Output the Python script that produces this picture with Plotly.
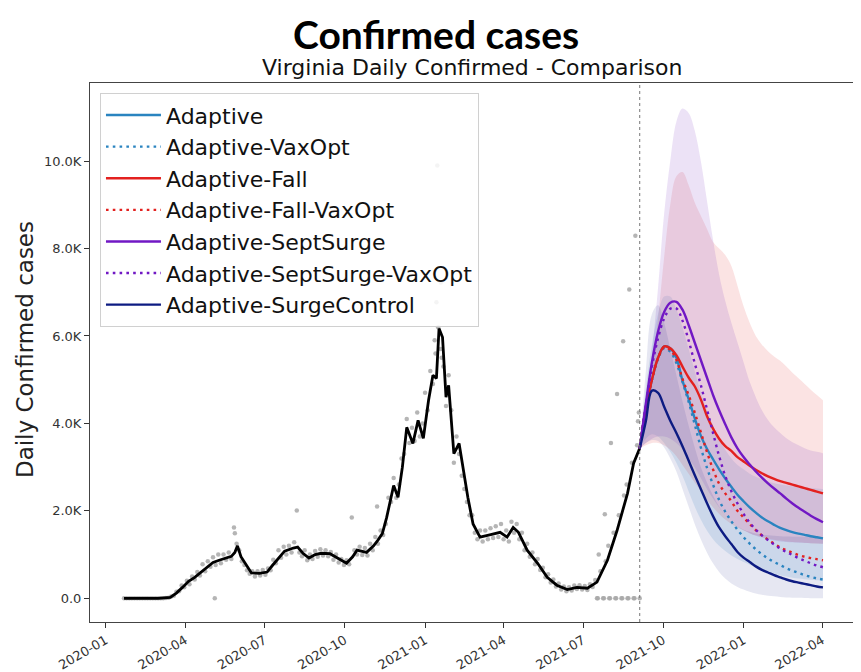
import plotly.graph_objects as go
import pandas as pd

# ---------------- text ----------------
title_text = "Confirmed cases"
subtitle_text = "Virginia Daily Confirmed - Comparison"
y_title = "Daily Confirmed cases"

# ---------------- history: 7-day average line ----------------
line_dates = ["2020-01-22", "2020-03-01", "2020-03-15", "2020-03-22", "2020-03-29", "2020-04-05",
              "2020-04-12", "2020-04-19", "2020-04-26", "2020-05-03", "2020-05-10", "2020-05-17",
              "2020-05-24", "2020-05-28", "2020-05-31", "2020-06-04", "2020-06-10", "2020-06-16",
              "2020-06-25", "2020-07-04", "2020-07-10", "2020-07-16", "2020-07-24", "2020-08-03",
              "2020-08-08", "2020-08-14", "2020-08-21", "2020-08-28", "2020-09-04", "2020-09-14",
              "2020-09-22", "2020-10-03", "2020-10-10", "2020-10-15", "2020-10-26", "2020-11-03",
              "2020-11-08", "2020-11-13", "2020-11-18", "2020-11-22", "2020-11-26", "2020-12-01",
              "2020-12-06", "2020-12-11", "2020-12-18", "2020-12-24", "2020-12-30", "2021-01-05",
              "2021-01-10", "2021-01-14", "2021-01-17", "2021-01-21", "2021-01-25", "2021-01-28",
              "2021-02-03", "2021-02-09", "2021-02-19", "2021-02-25", "2021-03-05", "2021-03-16",
              "2021-03-28", "2021-04-05", "2021-04-12", "2021-04-18", "2021-04-28", "2021-05-10",
              "2021-05-21", "2021-06-01", "2021-06-13", "2021-06-24", "2021-07-06", "2021-07-17",
              "2021-07-29", "2021-08-09", "2021-08-21", "2021-08-28", "2021-09-04"]
line_vals = [0, 0, 20, 120, 250, 390,
             480, 600, 720, 820, 870, 920,
             960, 1050, 1200, 950, 750, 580,
             570, 600, 750, 900, 1080, 1150,
             1170, 1030, 920, 1000, 1030, 1020,
             920, 800, 950, 1100, 1050, 1200,
             1330, 1480, 1850, 2250, 2580, 2310,
             3000, 3910, 3540, 4070, 3660, 4530,
             5100, 5030, 6170, 5970, 4600, 4870,
             3310, 3540, 2310, 1700, 1400, 1450,
             1510, 1400, 1620, 1510, 1100, 800,
             480, 300, 200, 250, 230, 370,
             870, 1550, 2400, 3090, 3430]

# ---------------- history: daily reported values (every 3rd day from start) ----------------
dot_start = "2020-01-22"
dot_vals = [0, 0, 0, 0, 0, 0, 0, 0, 0, 0, 0, 0, 0, 0, 0,
            2, 5, 15, 40, 60, 150, 160, 290, 250, 400, 320, 500, 430, 600, 520,
            780, 620, 850, 720, 940, 760, 1000, 800, 1000, 880, 1050, 900, 1620, 1250, 1100,
            850, 760, 640, 560, 620, 500, 620, 520, 650, 540, 680, 640, 880, 800, 1100,
            930, 1180, 1000, 1200, 1050, 1280, 2010, 1050, 960, 1100, 870, 1000, 900, 1080, 950,
            1120, 980, 1100, 960, 1060, 880, 1000, 820, 900, 760, 870, 780, 1850, 1100, 1000,
            1180, 990, 1150, 980, 1250, 1100, 1400, 1250, 1550, 1450, 1700, 2300, 2200, 2750, 2300,
            2600, 3200, 3300, 4100, 3550, 3900, 3600, 4250, 3700, 4000, 4700, 4300, 5200, 4900, 5600,
            6200, 5700, 5300, 4400, 5100, 4300, 3100, 3700, 3300, 2800, 2500, 2200, 1900, 1900, 1500,
            1350, 1550, 1300, 1550, 1350, 1600, 1380, 1650, 1400, 1700, 1350, 1550, 1300, 1750, 1500,
            1700, 1350, 1500, 1100, 1250, 950, 1050, 780, 900, 650, 700, 480, 550, 360, 430,
            270, 340, 200, 270, 160, 250, 180, 290, 210, 300, 200, 280, 190, 320, 260,
            420, 0, 620, 0, 850, 1200, 3550, 1500, 0, 1900, 0, 2350, 2600, 7060, 3100,
            0, 3500, 0]
extra_dot_dates = ["2020-05-05", "2020-05-28", "2020-11-07", "2021-01-12", "2021-01-14", "2021-01-15",
                   "2021-01-19", "2021-01-20", "2021-07-17", "2021-07-19", "2021-07-25", "2021-07-26",
                   "2021-07-31", "2021-08-01", "2021-08-07", "2021-08-09", "2021-08-15", "2021-08-16",
                   "2021-08-21", "2021-08-22", "2021-08-28", "2021-08-30", "2021-09-02", "2021-09-03"]
extra_dot_vals = [0, 1490, 2100, 5900, 6770, 9900,
                  7220, 5500, 0, 1000, 0, 1920,
                  0, 0, 0, 4670, 0, 5880,
                  0, 0, 0, 8290, 4050, 4250]

# ---------------- projections (weekly from the cut-off date) ----------------
proj_start = "2021-09-04"
cutoff_date = "2021-09-04"

adaptive = [3430, 4350, 5000, 5500, 5760, 5720, 5500, 4980, 4560, 4120, 3720, 3420, 3180, 2950, 2740,
            2550, 2370, 2220, 2080, 1960, 1850, 1760, 1680, 1610, 1560, 1515, 1480, 1450, 1420, 1395, 1370]
adaptive_vax = [3430, 4350, 5000, 5480, 5720, 5640, 5380, 4950, 4500, 3980, 3450, 2990, 2600, 2250, 1980,
                1760, 1570, 1400, 1250, 1120, 1010, 910, 830, 760, 690, 630, 580, 530, 490, 455, 430]
fall = [3430, 4350, 5000, 5500, 5760, 5720, 5560, 5300, 5050, 4850, 4550, 4170, 3880, 3650, 3480,
        3370, 3230, 3130, 3030, 2940, 2860, 2790, 2730, 2680, 2640, 2600, 2560, 2520, 2480, 2440, 2400]
fall_vax = [3430, 4350, 5000, 5490, 5740, 5680, 5450, 5020, 4650, 4250, 3800, 3350, 2950, 2620, 2400,
            2220, 2000, 1850, 1700, 1560, 1440, 1340, 1250, 1160, 1100, 1040, 990, 950, 920, 895, 870]
sept = [3430, 4450, 5400, 6100, 6550, 6760, 6780, 6600, 6250, 5850, 5450, 5050, 4650, 4300, 3980,
        3680, 3430, 3230, 3060, 2900, 2760, 2630, 2510, 2400, 2280, 2170, 2070, 1980, 1890, 1810, 1740]
sept_vax = [3430, 4400, 5300, 5950, 6400, 6620, 6630, 6350, 5900, 5380, 4880, 4330, 3780, 3250, 2800,
            2450, 2170, 1930, 1730, 1570, 1440, 1330, 1230, 1140, 1060, 990, 920, 860, 800, 750, 710]
surge_ctrl = [3430, 4050, 4750, 4700, 4380, 4060, 3780, 3480, 3150, 2820, 2500, 2180, 1880, 1620, 1420,
              1240, 1060, 930, 830, 730, 650, 590, 530, 480, 430, 390, 360, 330, 300, 270, 250]

# uncertainty bands
adaptive_lo = [3430, 3650, 3750, 3700, 3550, 3350, 3100, 2800, 2450, 2100, 1800, 1550, 1350, 1200, 1080,
               980, 900, 830, 770, 710, 660, 610, 570, 530, 500, 470, 450, 435, 425, 415, 410]
adaptive_hi = [3430, 4800, 5800, 6500, 6900, 6900, 6600, 6200, 5700, 5200, 4700, 4300, 3950, 3650, 3400,
               3200, 3050, 2950, 2850, 2780, 2720, 2670, 2630, 2600, 2580, 2560, 2540, 2530, 2520, 2510, 2500]
fall_lo = [3430, 3500, 3550, 3550, 3500, 3400, 3250, 3050, 2850, 2650, 2450, 2250, 2080, 1930, 1800,
           1700, 1620, 1550, 1490, 1440, 1400, 1370, 1340, 1320, 1300, 1290, 1280, 1270, 1260, 1255, 1250]
fall_hi = [3430, 4200, 5200, 6400, 7800, 9000, 9650, 9750, 9450, 9050, 8750, 8450, 8150, 8000, 7850,
           7600, 7150, 6680, 6300, 6000, 5800, 5650, 5530, 5430, 5300, 5160, 5030, 4900, 4770, 4650, 4530]
sept_lo = [3430, 3550, 3650, 3700, 3700, 3650, 3550, 3400, 3200, 3000, 2750, 2500, 2280, 2080, 1900,
           1760, 1650, 1560, 1490, 1430, 1390, 1350, 1320, 1300, 1290, 1280, 1270, 1265, 1260, 1255, 1250]
sept_hi = [3430, 4400, 5600, 7100, 8800, 10000, 10900, 11200, 11100, 10700, 10000, 9100, 8200, 7400, 6800,
           6300, 5850, 5400, 4950, 4600, 4300, 4080, 3910, 3780, 3660, 3570, 3500, 3430, 3380, 3350, 3320]
ctrl_lo = [3430, 3550, 3620, 3600, 3450, 3200, 2900, 2500, 2100, 1700, 1350, 1050, 800, 600, 450,
           340, 260, 200, 150, 110, 80, 60, 45, 30, 20, 15, 10, 6, 3, 1, 0]
ctrl_hi = [3430, 5200, 6500, 6700, 6300, 5700, 5100, 4500, 3950, 3450, 3000, 2650, 2350, 2100, 1900,
           1750, 1650, 1570, 1520, 1480, 1460, 1440, 1430, 1420, 1415, 1410, 1405, 1400, 1400, 1400, 1400]

# ---------------- axes ----------------
y_tickvals = [0, 2000, 4000, 6000, 8000, 10000]
y_ticktext = ["0.0", "2.0K", "4.0K", "6.0K", "8.0K", "10.0K"]
x_tickvals = ["2020-01-01", "2020-04-01", "2020-07-01", "2020-10-01", "2021-01-01",
              "2021-04-01", "2021-07-01", "2021-10-01", "2022-01-01", "2022-04-01"]
x_ticktext = ["2020-01", "2020-04", "2020-07", "2020-10", "2021-01",
              "2021-04", "2021-07", "2021-10", "2022-01", "2022-04"]

# ---------------- styles ----------------
C_BLUE = "#2a84c0"
C_RED = "#e3211f"
C_PURPLE = "#7118c4"
C_NAVY = "#0d1b82"
FONT = "DejaVu Sans"

proj_dates = pd.date_range(proj_start, periods=len(adaptive), freq="7D")
dot_dates = pd.date_range(dot_start, periods=len(dot_vals), freq="3D")

fig = go.Figure()

# daily dots
fig.add_trace(go.Scatter(x=list(dot_dates) + pd.to_datetime(extra_dot_dates).tolist(),
                         y=dot_vals + extra_dot_vals, mode="markers",
                         marker=dict(size=4.5, color="#a8a8a8", opacity=0.85),
                         showlegend=False, hoverinfo="skip"))
# 7-day average
fig.add_trace(go.Scatter(x=pd.to_datetime(line_dates), y=line_vals, mode="lines",
                         line=dict(color="#000000", width=2.8), showlegend=False))

# bands
bands = [
    (adaptive_lo, adaptive_hi, "rgba(45,135,195,0.14)"),
    (fall_lo, fall_hi, "rgba(226,55,55,0.14)"),
    (sept_lo, sept_hi, "rgba(120,50,190,0.14)"),
    (ctrl_lo, ctrl_hi, "rgba(25,35,135,0.11)"),
]
for lo, hi, col in bands:
    fig.add_trace(go.Scatter(x=proj_dates, y=lo, mode="lines", line=dict(width=0, shape="spline"),
                             showlegend=False, hoverinfo="skip"))
    fig.add_trace(go.Scatter(x=proj_dates, y=hi, mode="lines", line=dict(width=0, shape="spline"),
                             fill="tonexty", fillcolor=col, showlegend=False, hoverinfo="skip"))

DOT = "2.6px,4.2px"
series = [
    ("Adaptive", adaptive, C_BLUE, "solid"),
    ("Adaptive-VaxOpt", adaptive_vax, C_BLUE, DOT),
    ("Adaptive-Fall", fall, C_RED, "solid"),
    ("Adaptive-Fall-VaxOpt", fall_vax, C_RED, DOT),
    ("Adaptive-SeptSurge", sept, C_PURPLE, "solid"),
    ("Adaptive-SeptSurge-VaxOpt", sept_vax, C_PURPLE, DOT),
    ("Adaptive-SurgeControl", surge_ctrl, C_NAVY, "solid"),
]
for name, vals, col, dash in series:
    fig.add_trace(go.Scatter(x=proj_dates, y=vals, mode="lines", name=name, legendgroup=name,
                             line=dict(color=col, width=2.4, dash=dash, shape="spline", smoothing=1.0)))

# cut-off line
fig.add_shape(type="line", xref="x", yref="paper", x0=cutoff_date, x1=cutoff_date, y0=0, y1=1,
              line=dict(color="#777777", width=1, dash="dot"))

fig.add_annotation(text=f"<b>{title_text}</b>", xref="paper", yref="paper", x=0.451, y=1.091,
                   xanchor="center", yanchor="middle", showarrow=False,
                   font=dict(family="Lato", size=39, color="#000000"))
fig.add_annotation(text=subtitle_text, xref="paper", yref="paper", x=0.498, y=1.028,
                   xanchor="center", yanchor="middle", showarrow=False,
                   font=dict(family=FONT, size=22, color="#111111"))
fig.add_annotation(text=y_title, xref="paper", yref="paper", x=-0.085, y=0.506, textangle=-90,
                   xanchor="center", yanchor="middle", showarrow=False,
                   font=dict(family=FONT, size=23, color="#222222"))

# the page body adds an 8px margin, so the figure is sized/margined to compensate
fig.update_layout(
    width=853, height=664,
    margin=dict(l=82, r=4, t=75, b=50, autoexpand=False),
    paper_bgcolor="white", plot_bgcolor="white",
    font=dict(family=FONT, size=13, color="#333333"),
    legend=dict(x=0.013, y=0.981, xanchor="left", yanchor="top",
                bgcolor="rgba(255,255,255,0.85)", bordercolor="#d0d0d0", borderwidth=1,
                font=dict(family=FONT, size=22, color="#111111"),
                tracegroupgap=0, itemwidth=55),
    showlegend=True,
)
fig.update_xaxes(range=["2019-12-14", "2022-05-11"], tickvals=x_tickvals, ticktext=x_ticktext,
                 tickangle=-30, showline=True, linecolor="#444444", linewidth=1, mirror=True,
                 ticks="outside", ticklen=5, tickcolor="#333333", showgrid=False, zeroline=False,
                 automargin=False, tickfont=dict(family=FONT, size=13, color="#333333"))
fig.update_yaxes(range=[-542, 11785], tickvals=y_tickvals, ticktext=y_ticktext,
                 showline=True, linecolor="#444444", linewidth=1, mirror=True,
                 ticks="outside", ticklen=5, tickcolor="#333333", showgrid=False, zeroline=False,
                 automargin=False, tickfont=dict(family=FONT, size=13, color="#333333"))

fig.write_html("out.html")
